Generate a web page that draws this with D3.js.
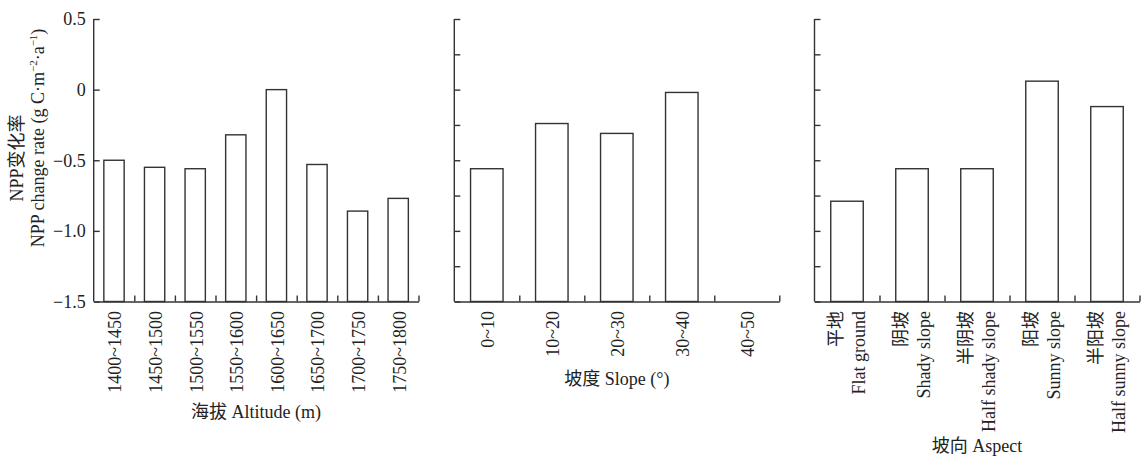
<!DOCTYPE html>
<html>
<head>
<meta charset="utf-8">
<script src="https://cdn.jsdelivr.net/npm/d3@7"></script>
<style>
  body { margin: 0; background: #fff; }
  svg text { font-family: "Liberation Serif", "Noto Sans CJK SC", serif; fill: #222; }
</style>
</head>
<body>
<svg id="chart" width="1142" height="459"></svg>
<script>
// data
const altitudeCats = ["1400~1450", "1450~1500", "1500~1550", "1550~1600", "1600~1650", "1650~1700", "1700~1750", "1750~1800"];
const altitudeVals = [-0.50, -0.55, -0.56, -0.32, 0.00, -0.53, -0.86, -0.77];

const slopeCats = ["0~10", "10~20", "20~30", "30~40", "40~50"];
const slopeVals = [-0.56, -0.24, -0.31, -0.02, -1.5];

const aspectCatsZh = ["平地", "阴坡", "半阴坡", "阳坡", "半阳坡"];
const aspectCatsEn = ["Flat ground", "Shady slope", "Half shady slope", "Sunny slope", "Half sunny slope"];
const aspectVals = [-0.79, -0.56, -0.56, 0.06, -0.12];

const yMajorTicks = [0.5, 0, -0.5, -1.0, -1.5];
const yMinorTicks = [0.5, 0.25, 0, -0.25, -0.5, -0.75, -1.0, -1.25, -1.5];

const svg = d3.select("#chart");
const stroke = "#333";

const y = d3.scaleLinear().domain([-1.5, 0.5]).range([301.5, 19]);

// panel layout: left edge of y axis + band width
const panels = [
    { cats: altitudeCats, vals: altitudeVals, x0: 93.7, band: 40.6, ticks: yMajorTicks, labels: true,
      title: "海拔 Altitude (m)", titleY: 418 },
    { cats: slopeCats, vals: slopeVals, x0: 454.3, band: 65, ticks: yMinorTicks, labels: false,
      title: "坡度 Slope (°)", titleY: 385 },
    { cats: aspectCatsEn, vals: aspectVals, x0: 814.5, band: 65, ticks: yMinorTicks, labels: false,
      title: "坡向 Aspect", titleY: 452, zh: aspectCatsZh }
];

panels.forEach(p => {
    const n = p.cats.length;
    const x = d3.scaleBand().domain(p.cats).range([p.x0, p.x0 + n * p.band]).padding(0);
    const xi = d3.scaleLinear().domain([0, n]).range([p.x0, p.x0 + n * p.band]);
    const g = svg.append("g");

    // bars
    const bw = x.bandwidth() * 0.5;
    g.selectAll("rect.bar")
        .data(p.vals)
        .join("rect")
        .attr("class", "bar")
        .attr("x", (d, i) => x(p.cats[i]) + (x.bandwidth() - bw) / 2)
        .attr("y", d => y(d))
        .attr("width", bw)
        .attr("height", d => y(-1.5) - y(d))
        .attr("fill", "#fff")
        .attr("stroke", stroke)
        .attr("stroke-width", 1.4);

    // y axis (ticks inward)
    const yAxis = g.append("g")
        .attr("transform", `translate(${p.x0},0)`)
        .call(d3.axisLeft(y).tickValues(p.ticks).tickSize(-6).tickSizeOuter(0)
            .tickFormat(d => d === 0 ? "0" : d3.format(".1f")(d).replace("-", "−")));
    yAxis.selectAll("path, line").attr("stroke", stroke).attr("stroke-width", 1.4);
    yAxis.select(".domain").attr("d", `M0,${y(0.5)}V${y(-1.5)}`);
    yAxis.selectAll("text")
        .attr("x", -8)
        .style("font-size", "18px")
        .style("font-family", "Liberation Serif")
        .attr("fill", "#222")
        .attr("opacity", p.labels ? 1 : 0);

    // x axis: ticks at band boundaries, pointing up
    const xAxis = g.append("g")
        .attr("transform", `translate(0,${y(-1.5)})`)
        .call(d3.axisBottom(xi).tickValues(d3.range(1, n + 1)).tickSize(-6).tickSizeOuter(0).tickFormat(""));
    xAxis.selectAll("path, line").attr("stroke", stroke).attr("stroke-width", 1.4);

    // category labels
    if (p.zh) {
        g.selectAll("text.zh")
            .data(p.zh)
            .join("text")
            .attr("class", "zh")
            .attr("transform", (d, i) => `translate(${x(p.cats[i]) + x.bandwidth() / 2 - 11},311) rotate(-90)`)
            .attr("dy", "0.35em")
            .attr("text-anchor", "end")
            .style("font-size", "18px")
            .text(d => d);
        g.selectAll("text.en")
            .data(p.cats)
            .join("text")
            .attr("class", "en")
            .attr("transform", d => `translate(${x(d) + x.bandwidth() / 2 + 12},311) rotate(-90)`)
            .attr("dy", "0.35em")
            .attr("text-anchor", "end")
            .style("font-size", "18px")
            .text(d => d);
    } else {
        g.selectAll("text.cat")
            .data(p.cats)
            .join("text")
            .attr("class", "cat")
            .attr("transform", d => `translate(${x(d) + x.bandwidth() / 2 + 1},311) rotate(-90)`)
            .attr("dy", "0.35em")
            .attr("text-anchor", "end")
            .style("font-size", "18px")
            .text(d => d);
    }

    // axis title
    g.append("text")
        .attr("x", p.x0 + n * p.band / 2)
        .attr("y", p.titleY)
        .attr("text-anchor", "middle")
        .style("font-size", "18px")
        .text(p.title);
});

// y axis title, two lines
svg.append("text")
    .attr("transform", "translate(17,158) rotate(-90)")
    .attr("dy", "0.35em")
    .attr("text-anchor", "middle")
    .style("font-size", "18px")
    .text("NPP变化率");

const yt = svg.append("text")
    .attr("transform", "translate(38,138) rotate(-90)")
    .attr("dy", "0.35em")
    .attr("text-anchor", "middle")
    .style("font-size", "18px");
yt.append("tspan").text("NPP change rate (g C·m");
yt.append("tspan").attr("dy", -7).style("font-size", "11px").text("−2");
yt.append("tspan").attr("dy", 7).text("·a");
yt.append("tspan").attr("dy", -7).style("font-size", "11px").text("−1");
yt.append("tspan").attr("dy", 7).text(")");
</script>
</body>
</html>
